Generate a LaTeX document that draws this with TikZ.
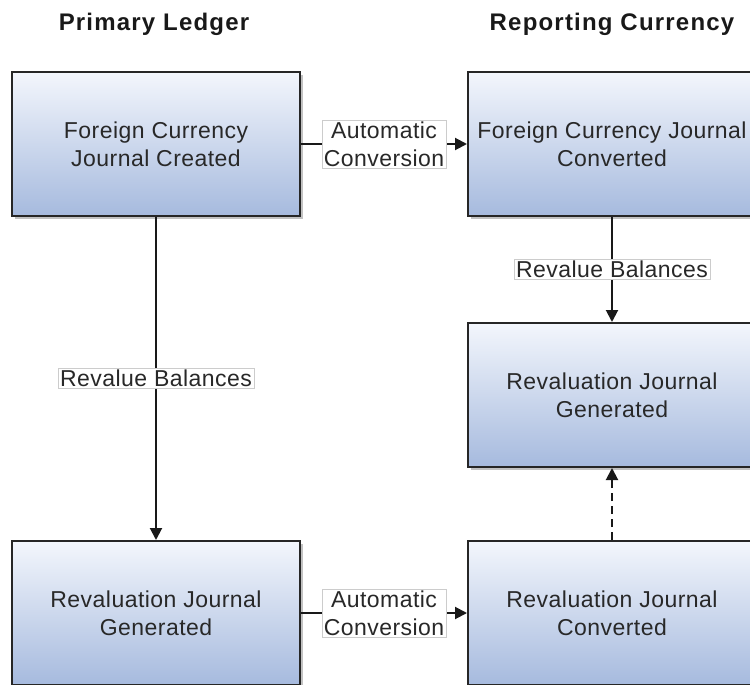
\documentclass[tikz,border=0pt]{standalone}
\usepackage{fontspec}
\setmainfont{Liberation Sans}
\newfontfamily\bodyfam[LetterSpace=2]{Liberation Sans}
\newfontfamily\headfam[LetterSpace=5]{Liberation Sans}
\usetikzlibrary{arrows.meta,shadows}
\definecolor{boxtop}{RGB}{243,246,252}
\definecolor{boxbot}{RGB}{166,186,222}
\definecolor{txt}{RGB}{40,40,40}
\newcommand{\bodyfont}{\bodyfam\fontsize{23}{28}\selectfont}
\newcommand{\headfont}{\headfam\bfseries\fontsize{24}{28}\selectfont}
\tikzset{
  jbox/.style={rectangle, minimum width=288pt, minimum height=144pt, inner sep=0pt,
    draw=black!85, line width=2pt, top color=boxtop, bottom color=boxbot,
    drop shadow={shadow xshift=3pt, shadow yshift=-3pt, fill=black!40, opacity=0.6},
    align=center, text=txt, font=\bodyfont},
  lbl/.style={fill=white, draw=black!20, line width=0.5pt, inner xsep=2pt, inner ysep=1.5pt,
    align=center, text=txt, font=\bodyfont},
  heading/.style={font=\headfont, text=black!90, anchor=base},
  flow/.style={line width=2pt, draw=black!90, -{Triangle[length=12pt,width=12pt]}},
}
\begin{document}
\begin{tikzpicture}[x=1pt,y=-1pt]
\useasboundingbox (0,0) rectangle (750,685);
\node[heading] (h1) at (154,31) {Primary Ledger};
\node[heading] (h2) at (612,31) {Reporting Currency};
\node[jbox] (fcj) at (156,144) {Foreign Currency\\Journal Created};
\node[jbox] (fcc) at (612,144) {Foreign Currency Journal\\Converted};
\node[jbox] (rjgr) at (612,395) {Revaluation Journal\\Generated};
\node[jbox] (rjg) at (156,613) {Revaluation Journal\\Generated};
\node[jbox] (rjc) at (612,613) {Revaluation Journal\\Converted};
\draw[flow] (fcj) -- node[lbl] (l1) {Automatic\\Conversion} (fcc);
\draw[flow] (fcj) -- node[lbl] (l2) {Revalue Balances} (rjg);
\draw[flow] (fcc) -- node[lbl] (l3) {Revalue Balances} (rjgr);
\draw[flow] (rjg) -- node[lbl] (l4) {Automatic\\Conversion} (rjc);
\draw[flow, dash pattern=on 8pt off 5pt] (rjc) -- (rjgr);
\end{tikzpicture}
\end{document}
